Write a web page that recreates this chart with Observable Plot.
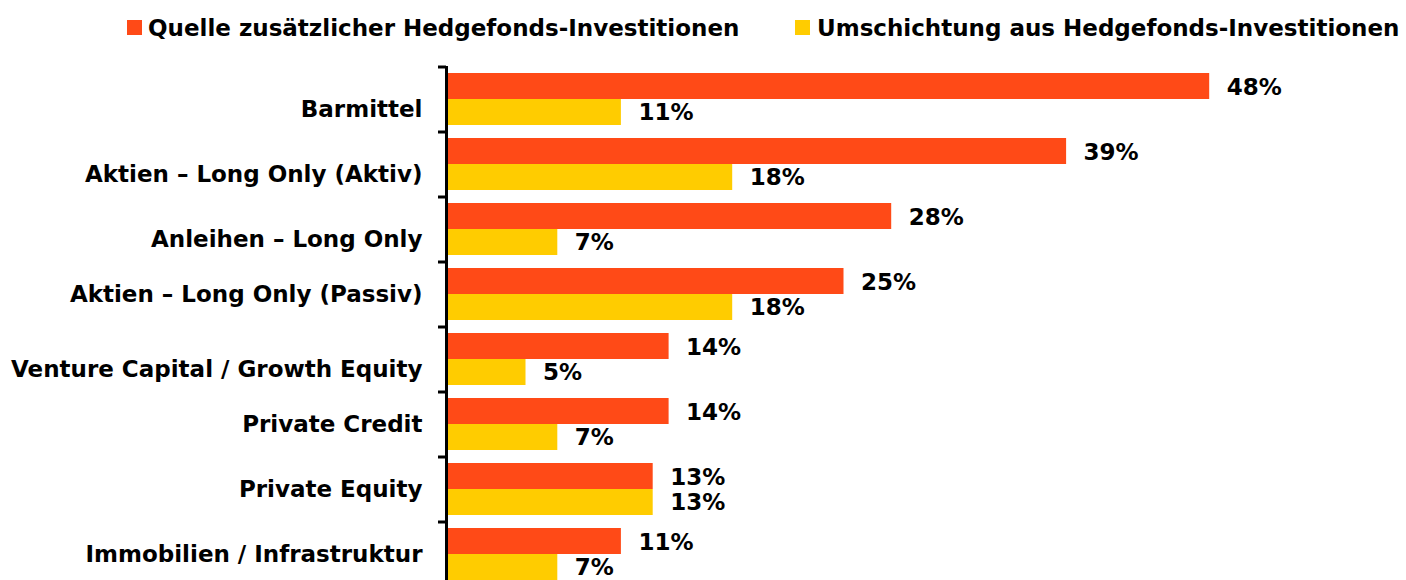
<!DOCTYPE html>
<html>
<head>
<meta charset="utf-8">
<script src="https://cdn.jsdelivr.net/npm/d3@7"></script>
<script src="https://cdn.jsdelivr.net/npm/@observablehq/plot@0.6"></script>
<style>
  html, body { margin: 0; padding: 0; background: #fff; }
  #legend { position: relative; height: 50px; width: 1406px; font-family: "DejaVu Sans", sans-serif; font-weight: 700; font-size: 23px; color: #000; }
  .sw { position: absolute; top: 20px; width: 15px; height: 15px; }
  .lt { position: absolute; top: 17px; line-height: 1; white-space: nowrap; }
</style>
</head>
<body>
<div id="legend"></div>
<div id="chart"></div>
<script>
const categories = [
  "Barmittel",
  "Aktien – Long Only (Aktiv)",
  "Anleihen – Long Only",
  "Aktien – Long Only (Passiv)",
  "Venture Capital / Growth Equity",
  "Private Credit",
  "Private Equity",
  "Immobilien / Infrastruktur"
];
const seriesNames = ["Quelle zusätzlicher Hedgefonds-Investitionen", "Umschichtung aus Hedgefonds-Investitionen"];
const seriesColors = ["#FF4A17", "#FFCC00"];
const quelleValues = [48, 39, 28, 25, 14, 14, 13, 11];
const umschichtungValues = [11, 18, 7, 18, 5, 7, 13, 7];

const quelle = categories.map((c, i) => ({category: c, value: quelleValues[i]}));
const umsch = categories.map((c, i) => ({category: c, value: umschichtungValues[i]}));

// legend
const legend = document.getElementById("legend");
const legendPos = [[127, 148], [795, 817]];
seriesNames.forEach((name, i) => {
  const sw = document.createElement("div");
  sw.className = "sw"; sw.style.left = legendPos[i][0] + "px"; sw.style.background = seriesColors[i];
  legend.appendChild(sw);
  const t = document.createElement("div");
  t.className = "lt"; t.style.left = legendPos[i][1] + "px"; t.textContent = name;
  legend.appendChild(t);
});

// in the original, some labels sit slightly lower within their band
const loweredLabels = categories.filter((c, i) => [0, 1, 2, 4].includes(i));
const centeredLabels = categories.filter(c => !loweredLabels.includes(c));

const font = "'DejaVu Sans', sans-serif";
const labelOpts = {tickSize: 0, tickPadding: 24, fontSize: 23, fontWeight: "bold", fill: "#000", label: null};
const chart = Plot.plot({
  width: 1406,
  height: 536,
  marginTop: 16,
  marginBottom: 0,
  marginLeft: 446,
  marginRight: 6,
  style: {fontFamily: font, color: "#000", background: "#fff"},
  x: {domain: [0, 60], axis: null},
  y: {domain: categories, paddingInner: 0.2, paddingOuter: 0.1, label: null},
  marks: [
    Plot.barX(quelle, {y: "category", x: "value", fill: seriesColors[0], insetTop: 0, insetBottom: 26}),
    Plot.barX(umsch, {y: "category", x: "value", fill: seriesColors[1], insetTop: 26, insetBottom: 0}),
    Plot.text(quelle, {y: "category", x: "value", text: d => d.value + "%", textAnchor: "start", dx: 17, dy: -12, fontSize: 23, fontWeight: "bold", fill: "#000"}),
    Plot.text(umsch, {y: "category", x: "value", text: d => d.value + "%", textAnchor: "start", dx: 17, dy: 13, fontSize: 23, fontWeight: "bold", fill: "#000"}),
    Plot.axisY({tickSize: 8, text: null, dy: -32.5, strokeWidth: 3, stroke: "#000"}),
    Plot.axisY(loweredLabels, {...labelOpts, dy: 10}),
    Plot.axisY(centeredLabels, {...labelOpts, dy: 0}),
    Plot.ruleX([0], {stroke: "#000", strokeWidth: 3})
  ]
});
document.getElementById("chart").appendChild(chart);
</script>
</body>
</html>
